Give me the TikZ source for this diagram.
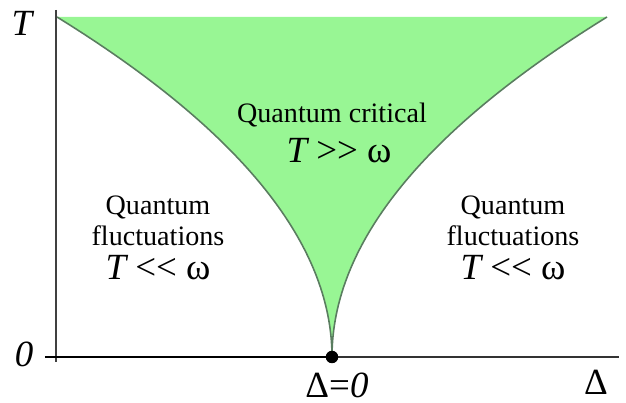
\documentclass[tikz,border=0pt]{standalone}
\usepackage{fontspec}
\setmainfont{Liberation Serif}
\usetikzlibrary{arrows.meta}
\definecolor{critgreen}{RGB}{152,246,148}
\definecolor{critline}{RGB}{90,125,96}
\tikzset{
  region/.style={align=center, font=\fontsize{16}{17.6}\selectfont},
  relation/.style={font=\fontsize{21}{23}\selectfont},
  axislabel/.style={font=\fontsize{21}{23}\selectfont}
}

\begin{document}
\begin{tikzpicture}[line width=0.7pt]
  \useasboundingbox (-6.64,-0.92) rectangle (5.88,7.14);
  % region critica
  \fill[critgreen] plot[domain=6.8:0, samples=80] ({-5.5*(\x/6.8)^2},\x)
        -- plot[domain=0:6.8, samples=80] ({5.5*(\x/6.8)^2},\x) -- cycle;
  \draw[critline, line width=0.9pt] plot[domain=6.8:0, samples=80] ({-5.5*(\x/6.8)^2},\x)
        -- plot[domain=0:6.8, samples=80] ({5.5*(\x/6.8)^2},\x);
  % ejes
  \coordinate (top) at (-5.52,6.94);
  \coordinate (bot) at (-5.52,-0.1);
  \coordinate (left) at (-5.74,0);
  \coordinate (right) at (5.74,0);
  \draw[black!75, line width=1.1pt] (top) -- (bot);
  \draw[line width=1.6pt] (left) -- (0,0);
  \draw[black!80, line width=1pt] (0,0) -- (right);
  \fill (0,0) circle (0.125); \coordinate (qcp) at (0,0);
  % etiquetas de los ejes
  \node[axislabel] (tlab) at (-6.2,6.68) {\itshape T};
  \node[axislabel] (zlab) at (-6.16,0.06) {\itshape 0};
  \node[axislabel] (dzero) at (0.1,-0.56) {Δ=\textit{0}};
  \node[axislabel] (dlab) at (5.28,-0.5) {Δ};
  % regiones
  \node[region] (crit) at (0,4.84) {Quantum critical};
  \node[relation] (critrel) at (0.14,4.12) {\itshape T\upshape\ >{}> ω};
  \node[region] (lfluc) at (-3.48,2.73) {Quantum\\fluctuations};
  \node[relation] (lrel) at (-3.48,1.78) {\itshape T\upshape\ <{}< ω};
  \node[region] (rfluc) at (3.62,2.73) {Quantum\\fluctuations};
  \node[relation] (rrel) at (3.62,1.78) {\itshape T\upshape\ <{}< ω};
\end{tikzpicture}
\end{document}
